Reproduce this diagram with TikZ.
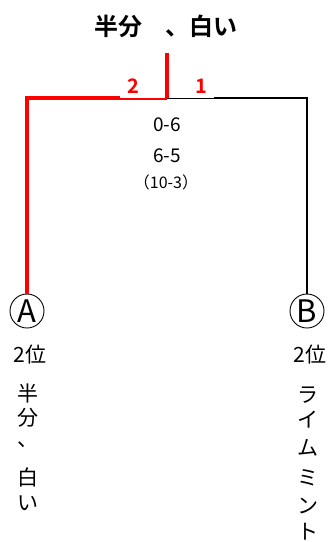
\documentclass[tikz,border=0pt]{standalone}
\usepackage{fontspec}
\setmainfont{Noto Sans CJK JP}[BoldFont={Noto Sans CJK JP Bold}]
\begin{document}
\begin{tikzpicture}[x=1pt,y=-1pt,
  lbl/.style={font=\fontsize{21}{21}\selectfont, inner sep=0pt},
  num/.style={font=\fontsize{20}{20}\selectfont\bfseries, text=red, fill=white, minimum height=24pt, inner ysep=0pt, text width=33pt, anchor=south west},
  score/.style={font=\fontsize{19}{19}\selectfont, inner sep=0pt},
  seed/.style={draw, circle, line width=0.9pt, minimum size=34pt, inner sep=0pt, font=\fontsize{31}{31}\selectfont},
  vch/.style={font=\fontsize{21}{21}\selectfont, inner sep=0pt}]
\useasboundingbox[fill=white] (0,0) rectangle (333,542);
\node[font=\fontsize{24}{24}\selectfont\bfseries, inner sep=0pt] (title) at (166,26) {半分　、白い};
\coordinate (top) at (167,53);
\coordinate (mid) at (167,98);
\coordinate (lc) at (27,98);
\coordinate (rc) at (307,98);
\node[seed] (A) at (27,311) {A};
\node[seed] (B) at (307,311) {B};
\draw[black, line width=2.6pt] (mid) -- (rc) -- (B.north);
\draw[red, line width=3.5pt] (mid) -- (lc) -- (A.north);
\node[num, inner xsep=7pt, align=left] (n2) at (120,98) {2};
\node[num, inner xsep=6pt, align=right] (n1) at (168.5,98) {1};
\draw[red, line width=3.5pt] (top) -- (mid);
\node[score] (s1) at (167,124.5) {0-6};
\node[score] (s2) at (167,156) {6-5};
\node[score, font=\fontsize{16}{16}\selectfont] (s3) at (166,182) {（10-3）};
\node[lbl] (ra) at (30,355) {2位};
\node[lbl] (rb) at (310,355) {2位};
\node[vch] (a1) at (28,393) {半};
\node[vch] (a2) at (28,418) {分};
\node[vch] (a3) at (28,445) {、};
\node[vch] (a4) at (28,477) {白};
\node[vch] (a5) at (28,503) {い};
\node[vch] (b1) at (308,395) {ラ};
\node[vch] (b2) at (308,420) {イ};
\node[vch] (b3) at (308,448) {ム};
\node[vch] (b4) at (308,478) {ミ};
\node[vch] (b5) at (308,506) {ン};
\node[vch] (b6) at (308,532) {ト};
\end{tikzpicture}
\end{document}
